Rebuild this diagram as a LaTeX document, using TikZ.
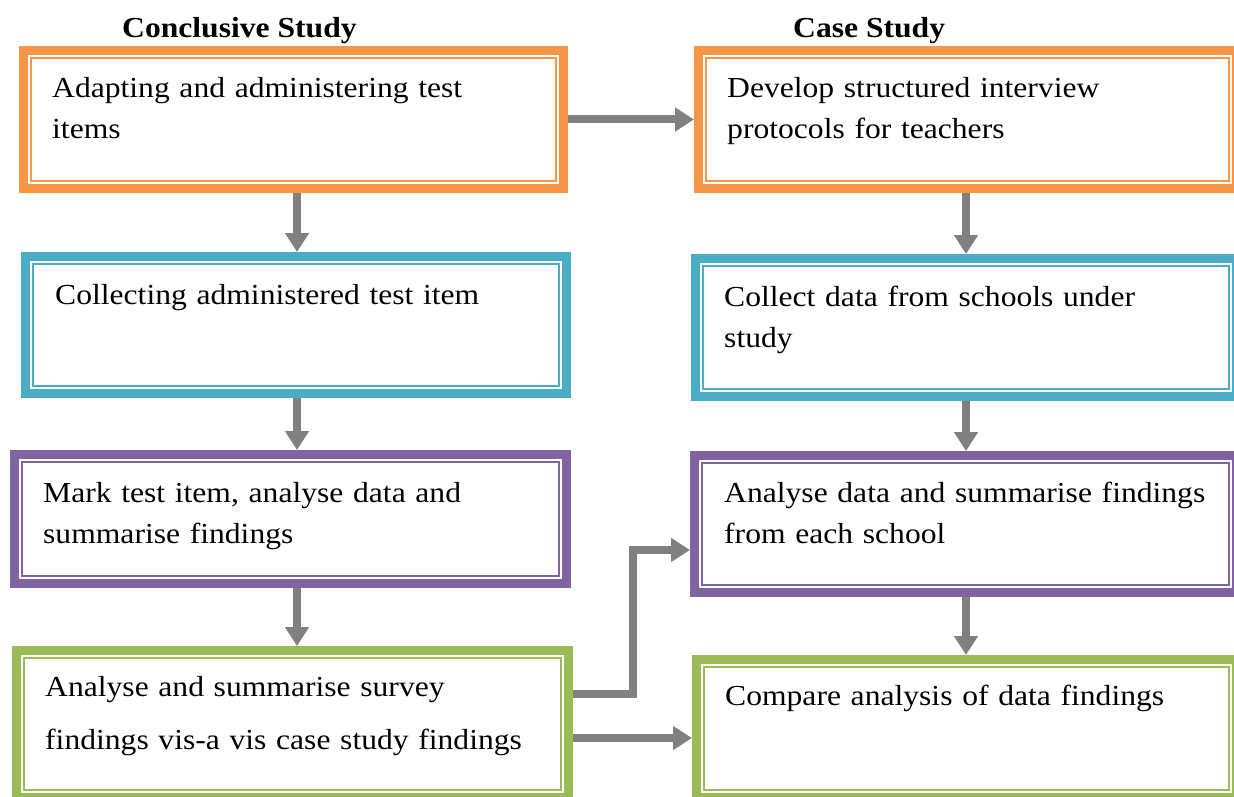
\documentclass[tikz,border=0pt]{standalone}
\usepackage{fontspec}
\setmainfont{Liberation Serif}[FakeStretch=1.09]
\usetikzlibrary{arrows.meta}
\definecolor{boxorange}{HTML}{F79646}
\definecolor{boxblue}{HTML}{4BACC6}
\definecolor{boxpurple}{HTML}{8064A2}
\definecolor{boxgreen}{HTML}{9BBB59}
\definecolor{flowgray}{HTML}{808080}
\begin{document}
\begin{tikzpicture}[x=1pt,y=-1pt,
  stagebox/.style={draw=#1,line width=9pt,fill=white,
    path picture={\draw[#1,line width=2pt]
      ([shift={(7.5pt,-7.5pt)}]path picture bounding box.north west) rectangle
      ([shift={(-7.5pt,7.5pt)}]path picture bounding box.south east);}},
  stagetext/.style={anchor=base west,inner sep=0pt,align=left,text width=560pt,
    font=\fontsize{29}{41}\selectfont},
  heading/.style={anchor=base west,inner sep=0pt,font=\fontsize{29}{35}\selectfont\bfseries},
  flow/.style={draw=flowgray,line width=8pt,line join=miter,-{Triangle[length=19pt,width=23pt]}}]
%width=1234px
%height=797px
\useasboundingbox (0,0) rectangle (1234,797);
% coordinates
\coordinate (lcol) at (297,0);
\coordinate (rcol) at (966,0);
\coordinate (bend) at (633,0);
\coordinate (out1) at (0,694);
\coordinate (out2) at (0,738);
\coordinate (in1)  at (0,550);
% headings
\node[heading] (hcs) at (122,38) {Conclusive Study};
\node[heading] (hcd) at (793,38) {Case Study};
% conclusive study boxes
\node[stagebox=boxorange,minimum width=540pt,minimum height=138pt] (cs1) at (293.5,119.5) {};
\node[stagebox=boxblue,  minimum width=541pt,minimum height=137pt] (cs2) at (296,325) {};
\node[stagebox=boxpurple,minimum width=552pt,minimum height=129pt] (cs3) at (290.5,519) {};
\node[stagebox=boxgreen, minimum width=552pt,minimum height=147pt] (cs4) at (292.5,724) {};
% case study boxes
\node[stagebox=boxorange,minimum width=538pt,minimum height=138pt] (cd1) at (967.5,119.5) {};
\node[stagebox=boxblue,  minimum width=541pt,minimum height=138pt] (cd2) at (966,327.5) {};
\node[stagebox=boxpurple,minimum width=542pt,minimum height=137pt] (cd3) at (965.5,524) {};
\node[stagebox=boxgreen, minimum width=540pt,minimum height=138pt] (cd4) at (966.5,728.5) {};
% texts
\node[stagetext] (tcs1) at (52,98)  {Adapting and administering test\\items};
\node[stagetext] (tcs2) at (55,304) {Collecting administered test item};
\node[stagetext] (tcs3) at (43,502) {Mark test item, analyse data and\\summarise findings};
\node[stagetext] (tcs4) at (45,696) {Analyse and summarise survey\\[12pt]findings vis-a vis case study findings};
\node[stagetext] (tcd1) at (727,98)  {Develop structured interview\\protocols for teachers};
\node[stagetext] (tcd2) at (724,306) {Collect data from schools under\\study};
\node[stagetext] (tcd3) at (724,502) {Analyse data and summarise findings\\from each school};
\node[stagetext] (tcd4) at (725,705) {Compare analysis of data findings};
% arrows
\draw[flow] (cs1.south -| lcol) -- (cs2.north -| lcol);
\draw[flow] (cs2.south -| lcol) -- (cs3.north -| lcol);
\draw[flow] (cs3.south -| lcol) -- (cs4.north -| lcol);
\draw[flow] (cd1.south -| rcol) -- (cd2.north -| rcol);
\draw[flow] (cd2.south -| rcol) -- (cd3.north -| rcol);
\draw[flow] (cd3.south -| rcol) -- (cd4.north -| rcol);
\draw[flow] (cs1.east) -- (cd1.west);
\draw[flow] (cs4.east |- out1) -| (bend |- in1) -- (cd3.west |- in1);
\draw[flow] (cs4.east |- out2) -- (cd4.west |- out2);
\end{tikzpicture}
\end{document}
